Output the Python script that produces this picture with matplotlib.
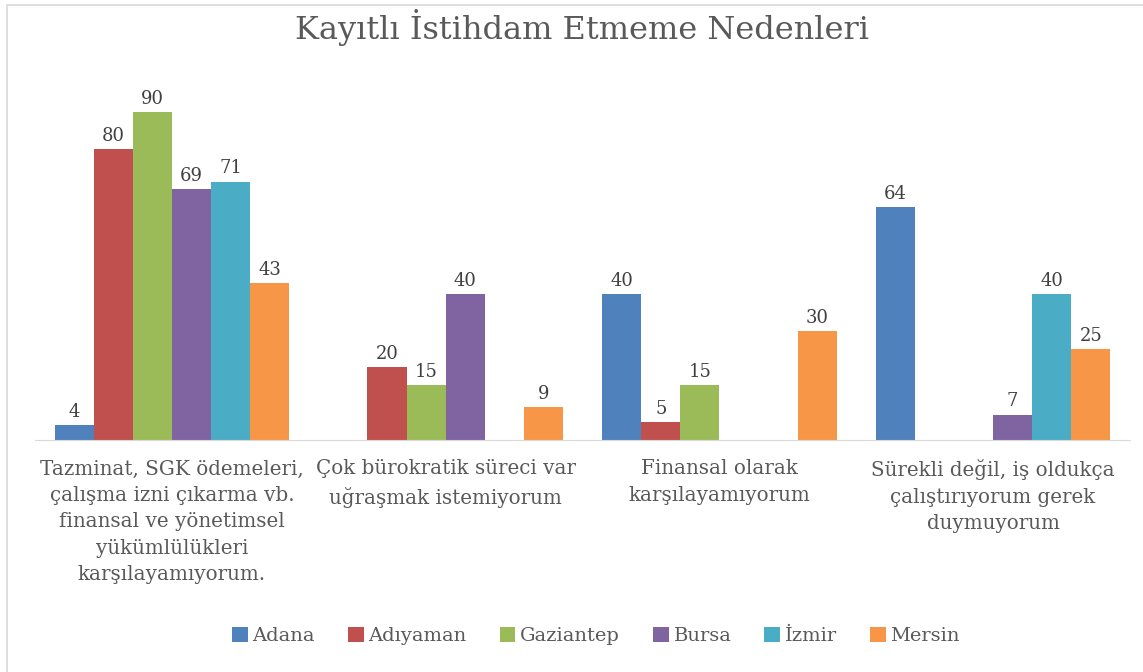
import numpy as np
import matplotlib.pyplot as plt
from matplotlib.patches import Rectangle

plt.rcParams['font.family'] = ['DejaVu Serif']

categories = ['Tazminat, SGK ödemeleri,\nçalışma izni çıkarma vb.\nfinansal ve yönetimsel\nyükümlülükleri\nkarşılayamıyorum.',
              'Çok bürokratik süreci var\nuğraşmak istemiyorum',
              'Finansal olarak\nkarşılayamıyorum',
              'Sürekli değil, iş oldukça\nçalıştırıyorum gerek\nduymuyorum']
cities = ['Adana', 'Adıyaman', 'Gaziantep', 'Bursa', 'İzmir', 'Mersin']
adana = [4, np.nan, 40, 64]
adiyaman = [80, 20, 5, np.nan]
gaziantep = [90, 15, 15, np.nan]
bursa = [69, 40, np.nan, 7]
izmir = [71, np.nan, np.nan, 40]
mersin = [43, 9, 30, 25]
series = [adana, adiyaman, gaziantep, bursa, izmir, mersin]
colors = ['#4F81BD', '#C0504D', '#9BBB59', '#8064A2', '#4BACC6', '#F79646']

W, H = 1143, 672
fig = plt.figure(figsize=(W/100, H/100), dpi=100)
ax = fig.add_axes([35/W, (H-440)/H, (1130-35)/W, (440-76)/H])

x = np.arange(len(categories))
bw = 1/7
for i, (vals, c, name) in enumerate(zip(series, colors, cities)):
    bars = ax.bar(x + (i - 2.5)*bw, vals, bw, color=c, label=name)
    labs = ['' if np.isnan(v) else f'{int(v)}' for v in vals]
    ax.bar_label(bars, labels=labs, padding=3, fontsize=13, color='#404040')

ax.set_xlim(-0.5, 3.5)
ax.set_ylim(0, 100)
ax.set_yticks([])
ax.set_xticks(x)
ax.set_xticklabels(categories, fontsize=14.3, color='#595959', linespacing=1.5)
ax.tick_params(axis='x', length=0, pad=14)
for s in ['top', 'left', 'right']:
    ax.spines[s].set_visible(False)
ax.spines['bottom'].set_color('#D9D9D9')

fig.text(582/W, 1 - 28/H, 'Kayıtlı İstihdam Etmeme Nedenleri', ha='center', va='center',
         fontsize=23, color='#595959')

fig.legend(loc='center', bbox_to_anchor=(596/W, 1 - 636/H), ncol=6, frameon=False,
           fontsize=14, labelcolor='#595959', handlelength=0.8, handleheight=0.8,
           handletextpad=0.25, columnspacing=1.7)

fig.patches.append(Rectangle((7/W, -0.05), 1.1, (H-5)/H + 0.05, transform=fig.transFigure,
                             fill=False, edgecolor='#D9D9D9', linewidth=1.2))

fig.savefig('out.png', dpi=100)
